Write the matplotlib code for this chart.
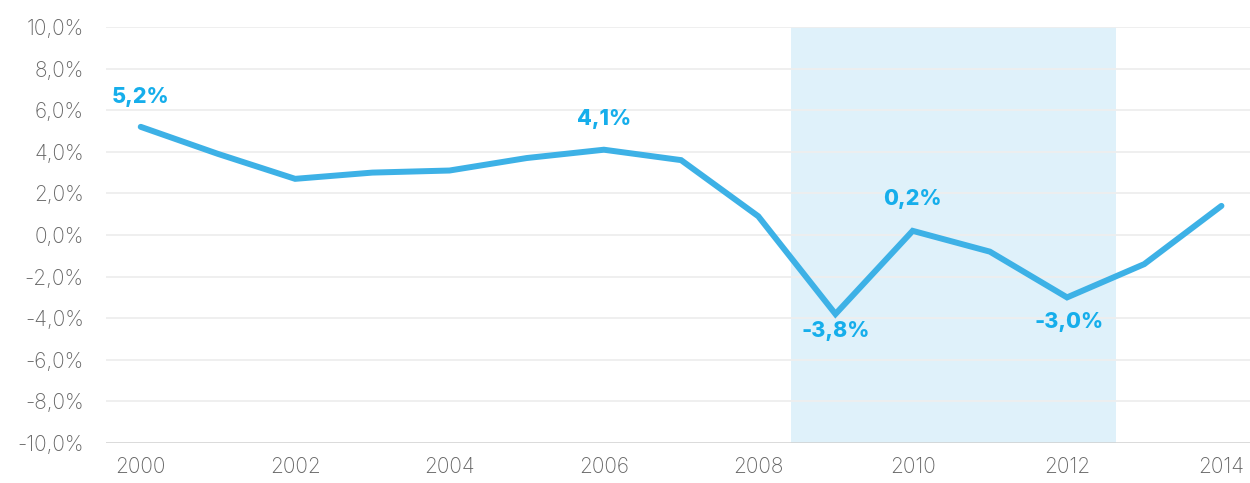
import matplotlib.pyplot as plt
import numpy as np

# Data
years = list(range(2000, 2015))
growth = [5.2, 3.9, 2.7, 3.0, 3.1, 3.7, 4.1, 3.6, 0.9, -3.8, 0.2, -0.8, -3.0, -1.4, 1.4]
labelled_years = [2000, 2006, 2009, 2010, 2012]
shade_span = (2008.42, 2012.63)

line_color = "#3DB1E6"
label_color = "#16AEEB"

plt.rcParams['font.family'] = ['Inter', 'DejaVu Sans']

fig = plt.figure(figsize=(12.5, 4.83), dpi=100)
ax = fig.add_axes([106 / 1250, 1 - 443 / 483, 1 - 106 / 1250, (443 - 27) / 483])

ax.axvspan(*shade_span, color="#DFF1FA", zorder=0, lw=0)

yticks = np.arange(-10, 11, 2)
for t in yticks[1:]:
    ax.axhline(t, color="#EEEEEE", lw=1.3, zorder=1)
ax.axhline(-10, color="#D0D0D0", lw=1.8, zorder=1)

ax.plot(years, growth, color=line_color, lw=4.3, solid_capstyle="round",
        solid_joinstyle="miter", zorder=3)

# Value labels
offsets = {2000: (0, 30), 2006: (0, 31), 2009: (0, -17), 2010: (0, 32), 2012: (2, -25)}
for y in labelled_years:
    v = growth[years.index(y)]
    dx, dy = offsets[y]
    ax.annotate(f"{v:.1f}%".replace(".", ","), (y, v), xytext=(dx, dy),
                textcoords="offset pixels", ha="center", va="center",
                color=label_color, fontsize=15.5, fontweight="heavy", zorder=4)

ax.set_xlim(1999.55, 2014.37)
ax.set_ylim(-10, 10)
ax.set_yticks(yticks)
ax.set_yticklabels([f"{t:.1f}%".replace(".", ",") for t in yticks])
ax.set_xticks(range(2000, 2015, 2))
ax.tick_params(axis="both", length=0, labelsize=15, labelcolor="#666666")
ax.tick_params(axis="y", pad=16)
ax.tick_params(axis="x", pad=10)
for s in ax.spines.values():
    s.set_visible(False)
for lbl in ax.get_xticklabels() + ax.get_yticklabels():
    lbl.set_fontweight("light")

plt.savefig("out.png", dpi=100)
plt.close()
